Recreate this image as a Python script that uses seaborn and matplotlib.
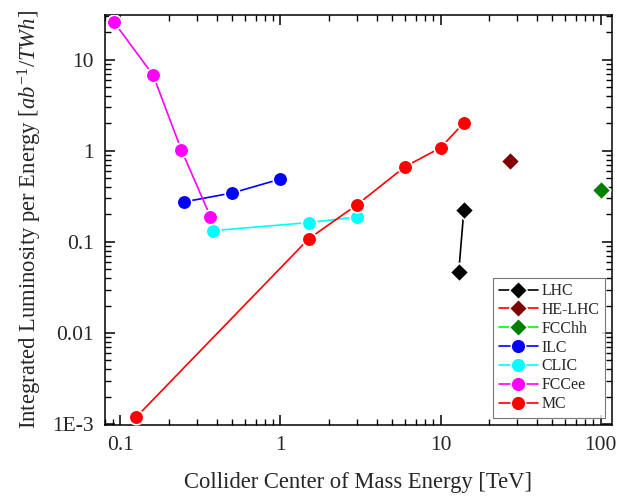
import matplotlib
matplotlib.use("Agg")
import matplotlib.pyplot as plt
from matplotlib.lines import Line2D
from matplotlib.ticker import FixedLocator, FixedFormatter, LogLocator, NullFormatter
import seaborn as sns
import pandas as pd

# ---- data ----
lhc_x = [13, 14]
lhc_y = [0.047, 0.225]
helhc_x = [27]
helhc_y = [0.77]
fcchh_x = [100]
fcchh_y = [0.37]
ilc_x = [0.25, 0.5, 1.0]
ilc_y = [0.275, 0.345, 0.49]
clic_x = [0.38, 1.5, 3.0]
clic_y = [0.133, 0.163, 0.188]
fccee_x = [0.091, 0.16, 0.24, 0.365]
fccee_y = [26, 6.8, 1.03, 0.19]
mc_x = [0.126, 1.5, 3.0, 6.0, 10.0, 14.0]
mc_y = [0.0012, 0.108, 0.255, 0.67, 1.08, 2.03]

series_names = ["LHC", "HE-LHC", "FCChh", "ILC", "CLIC", "FCCee", "MC"]
xticks = [0.1, 1, 10, 100]
xtick_labels = ["0.1", "1", "10", "100"]
yticks = [0.001, 0.01, 0.1, 1, 10]
ytick_labels = ["1E-3", "0.01", "0.1", "1", "10"]

sns.set_theme(style="ticks")
plt.rcParams["font.family"] = ["Liberation Serif", "DejaVu Serif"]
plt.rcParams["mathtext.fontset"] = "custom"
plt.rcParams["mathtext.it"] = "Liberation Serif:italic"
plt.rcParams["mathtext.rm"] = "Liberation Serif"

fig = plt.figure(figsize=(6.17, 5.01), dpi=100)
ax = fig.add_axes([0.170, 0.152, 0.822, 0.818])

styles = {
    "LHC": dict(x=lhc_x, y=lhc_y, line="black", mark="black", m="D", ms=9.5),
    "HE-LHC": dict(x=helhc_x, y=helhc_y, line="red", mark="#800000", m="D", ms=9.5),
    "FCChh": dict(x=fcchh_x, y=fcchh_y, line="#00ff00", mark="#008000", m="D", ms=9.5),
    "ILC": dict(x=ilc_x, y=ilc_y, line="blue", mark="blue", m="o", ms=10.5),
    "CLIC": dict(x=clic_x, y=clic_y, line="cyan", mark="cyan", m="o", ms=10.5),
    "FCCee": dict(x=fccee_x, y=fccee_y, line="magenta", mark="magenta", m="o", ms=10.5),
    "MC": dict(x=mc_x, y=mc_y, line="red", mark="red", m="o", ms=10.5),
}

handles = []
for name in series_names:
    s = styles[name]
    df = pd.DataFrame({"x": s["x"], "y": s["y"]})
    if len(df) > 1:
        sns.lineplot(data=df, x="x", y="y", ax=ax, color=s["line"], lw=1.2,
                     sort=False, estimator=None, legend=False, zorder=2)
    sns.scatterplot(data=df, x="x", y="y", ax=ax, color=s["mark"], marker=s["m"],
                    s=s["ms"] ** 2, edgecolor="white", linewidth=1.2,
                    legend=False, zorder=3)
    handles.append(Line2D([0], [0], color=s["line"], lw=1.2, marker=s["m"],
                          markersize=s["ms"], markerfacecolor=s["mark"],
                          markeredgecolor="white", markeredgewidth=1.0))

ax.set_xscale("log")
ax.set_yscale("log")
ax.set_xlim(0.08, 118)
ax.set_ylim(0.00098, 31)

ax.xaxis.set_major_locator(FixedLocator(xticks))
ax.xaxis.set_major_formatter(FixedFormatter(xtick_labels))
ax.yaxis.set_major_locator(FixedLocator(yticks))
ax.yaxis.set_major_formatter(FixedFormatter(ytick_labels))
ax.xaxis.set_minor_locator(LogLocator(base=10, subs=range(2, 10), numticks=20))
ax.yaxis.set_minor_locator(LogLocator(base=10, subs=range(2, 10), numticks=20))
ax.xaxis.set_minor_formatter(NullFormatter())
ax.yaxis.set_minor_formatter(NullFormatter())

ax.tick_params(which="both", direction="in", top=True, right=True, color="black")
ax.tick_params(which="major", length=7, width=1.1, labelsize=15.5, pad=8)
ax.tick_params(which="minor", length=4, width=1.0)
for sp in ax.spines.values():
    sp.set_linewidth(1.1)
    sp.set_color("black")

ax.set_xlabel("Collider Center of Mass Energy [TeV]", fontsize=16.3, labelpad=12)
ax.set_ylabel(r"Integrated Luminosity per Energy [$ab^{-1}/TWh$]", fontsize=16.3, labelpad=6)

leg = ax.legend(handles, series_names, loc="lower right", fontsize=11.4,
                frameon=True, fancybox=False, edgecolor="#555555",
                labelspacing=0.18, handlelength=2.5, handletextpad=0.2,
                borderpad=0.35, borderaxespad=0.45)
leg.get_frame().set_linewidth(0.8)

fig.savefig("out.png", dpi=100)
